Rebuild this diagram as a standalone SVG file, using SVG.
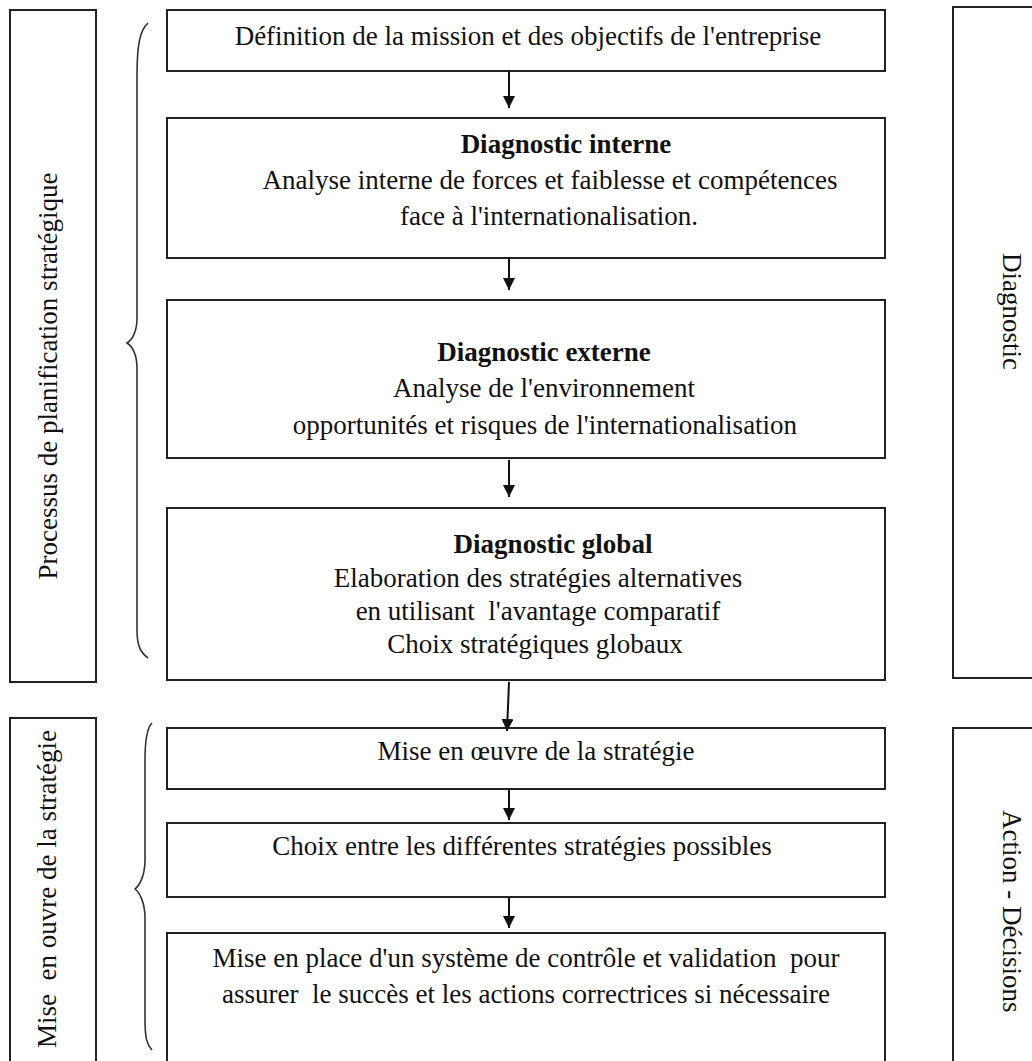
<svg xmlns="http://www.w3.org/2000/svg" width="1032" height="1061" viewBox="0 0 1032 1061">
<style>
.box{fill:#fff;stroke:#222;stroke-width:2}
.t{font-family:"Liberation Serif","Times New Roman",serif;font-size:27px;fill:#111;text-anchor:middle}
.b{font-weight:bold}
.v{font-family:"Liberation Serif","Times New Roman",serif;font-size:27px;fill:#111}
.brace{fill:none;stroke:#333;stroke-width:1.6}
.arrow{stroke:#111;stroke-width:2;fill:none}
</style>
<defs>
<marker id="ah" viewBox="0 0 10 10" refX="10" refY="5" markerWidth="6" markerHeight="6" markerUnits="strokeWidth" orient="auto">
<path d="M0,0 L10,5 L0,10 z" fill="#111"/>
</marker>
</defs>
<rect width="1032" height="1061" fill="#fff"/>

<g id="side-processus">
<rect class="box" x="10" y="10" width="86" height="672"/>
<text class="v" text-anchor="middle" transform="translate(57,376) rotate(-90)">Processus de planification stratégique</text>
</g>
<g id="side-mise">
<rect class="box" x="10" y="718" width="86" height="360"/>
<text class="v" text-anchor="middle" xml:space="preserve" transform="translate(56,889) rotate(-90)">Mise  en ouvre de la stratégie</text>
</g>
<g id="side-diagnostic">
<rect class="box" x="953" y="7" width="90" height="671"/>
<text class="v" transform="translate(1003,253) rotate(90)">Diagnostic</text>
</g>
<g id="side-action">
<rect class="box" x="953" y="728" width="90" height="350"/>
<text class="v" transform="translate(1003,810) rotate(90)">Action - Décisions</text>
</g>

<g id="braces">
<path class="brace" d="M148,23 C140,30 137,45 137,75 L137,318 C137,332 132,340 127,343 C132,346 137,354 137,368 L137,630 C137,645 140,652 148,658"/>
<path class="brace" d="M152,723 C147,728 145,740 145,760 L145,860 C145,875 140,885 135,889 C140,893 145,903 145,918 L145,1020 C145,1038 147,1045 152,1050"/>
</g>

<g id="n1">
<rect class="box" x="167" y="10" width="718" height="61"/>
<text class="t" x="528" y="45">Définition de la mission et des objectifs de l'entreprise</text>
</g>
<g id="n2">
<rect class="box" x="167" y="118" width="718" height="140"/>
<text class="t b" x="566" y="153">Diagnostic interne</text>
<text class="t" x="550" y="189">Analyse interne de forces et faiblesse et compétences</text>
<text class="t" x="549" y="225">face à l'internationalisation.</text>
</g>
<g id="n3">
<rect class="box" x="167" y="300" width="718" height="158"/>
<text class="t b" x="544" y="361">Diagnostic externe</text>
<text class="t" x="544" y="397">Analyse de l'environnement</text>
<text class="t" x="545" y="434">opportunités et risques de l'internationalisation</text>
</g>
<g id="n4">
<rect class="box" x="167" y="508" width="718" height="172"/>
<text class="t b" x="553" y="553">Diagnostic global</text>
<text class="t" x="538" y="587">Elaboration des stratégies alternatives</text>
<text class="t" x="538" y="620" xml:space="preserve">en utilisant  l'avantage comparatif</text>
<text class="t" x="535" y="653">Choix stratégiques globaux</text>
</g>
<g id="n5">
<rect class="box" x="167" y="728" width="718" height="61"/>
<text class="t" x="536" y="760">Mise en œuvre de la stratégie</text>
</g>
<g id="n6">
<rect class="box" x="167" y="823" width="718" height="74"/>
<text class="t" x="522" y="855">Choix entre les différentes stratégies possibles</text>
</g>
<g id="n7">
<rect class="box" x="167" y="933" width="718" height="150"/>
<text class="t" x="526" y="967" xml:space="preserve">Mise en place d'un système de contrôle et validation  pour</text>
<text class="t" x="526" y="1003" xml:space="preserve">assurer  le succès et les actions correctrices si nécessaire</text>
</g>

<g id="connectors">
<line class="arrow" x1="509" y1="71" x2="509" y2="108" marker-end="url(#ah)"/>
<line class="arrow" x1="509" y1="258" x2="509" y2="290" marker-end="url(#ah)"/>
<line class="arrow" x1="509" y1="460" x2="509" y2="497" marker-end="url(#ah)"/>
<line class="arrow" x1="509" y1="682" x2="507" y2="731" marker-end="url(#ah)"/>
<line class="arrow" x1="509" y1="789" x2="509" y2="820" marker-end="url(#ah)"/>
<line class="arrow" x1="509" y1="897" x2="509" y2="928" marker-end="url(#ah)"/>
</g>
</svg>
